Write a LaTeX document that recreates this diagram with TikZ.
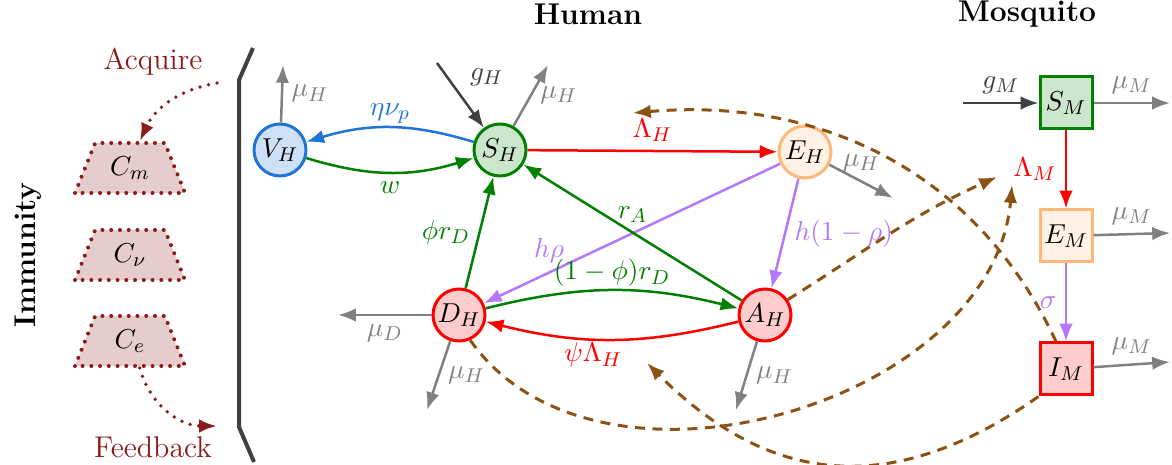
\documentclass[tikz,border=0pt]{standalone}
\usepackage{xcolor}
\usepackage{amsmath,amssymb}
\usepackage{tikz}
\usetikzlibrary{arrows.meta,positioning,shapes.geometric}
\definecolor{HumBlue}{HTML}{1F74D6}
\definecolor{HumGreen}{HTML}{008000}
\definecolor{HumOrange}{HTML}{FFB877}
\definecolor{HumRed}{HTML}{FF0000}
\definecolor{HumPurple}{HTML}{B478FF}
\definecolor{VecBrown}{HTML}{8C5214}
\definecolor{ImmRed}{HTML}{8B1A1A}
\definecolor{DarkGray}{HTML}{404040}
\tikzset{
  cmp/human/.style={draw, circle, line width=1.2pt, minimum size=20.8pt, inner sep=0pt},
  cmp/mosq/.style={draw, rectangle, line width=1.2pt, minimum size=20.8pt, inner sep=0pt},
  cmp/imm/.style={draw=ImmRed, fill=ImmRed!22, trapezium, trapezium left angle=63,
    trapezium right angle=63, trapezium stretches body=true, minimum width=44pt,
    minimum height=20pt, line width=1.6pt, dash pattern=on 0pt off 3.5pt, line cap=round},
  cmp/title/.style={font=\fontsize{12}{14}\selectfont\bfseries},
  cmp/flow/.style={-{Latex[length=2.5mm,width=1.9mm]}, line width=1pt},
  cmp/death/.style={cmp/flow, gray},
  cmp/birth/.style={cmp/flow, DarkGray},
  cmp/infect/.style={-{Latex[length=2.5mm,width=1.9mm]}, VecBrown, line width=1.2pt,
    dash pattern=on 4pt off 3pt},
  cmp/acq/.style={-{Latex[length=2.5mm,width=1.9mm]}, ImmRed, line width=1.5pt,
    dash pattern=on 0pt off 3.5pt, line cap=round},
  cmp/lbl/.style={inner sep=1pt}
}
\begin{document}
\begin{tikzpicture}[x=0.4pt, y=0.4pt, node distance=31.2pt, font=\fontsize{11}{13}\selectfont]
  \useasboundingbox (0,0) rectangle (1172,465);

  % titles
  \node[cmp/title] (human) at (588,451) {Human};
  \node[cmp/title] (mosquito) at (1027,451) {Mosquito};
  \node[cmp/title, rotate=90] (immunity) at (28,210) {Immunity};

  % immunity classes
  \node[cmp/imm] (Cm) at (130,297) {$C_m$};
  \node[cmp/imm] (Cnu) at (130,210) {$C_\nu$};
  \node[cmp/imm] (Ce) at (130,124) {$C_e$};
  \node[text=ImmRed, font=\fontsize{12}{14}\selectfont] (acquire) at (153,403) {Acquire};
  \node[text=ImmRed, font=\fontsize{12}{14}\selectfont] (feedback) at (153,18) {Feedback};
  \coordinate (acqstart) at (217,382);
  \coordinate (fbend) at (217,39);
  \draw[cmp/acq] (acqstart) to[out=190,in=65] (Cm.70);
  \draw[cmp/acq] (Ce.-70) to[out=-75,in=180] (fbend);
  \draw[line width=1.6pt, DarkGray] (253,417) -- (239,385) -- (239,38) -- (254,3);

  % human compartments
  \node[cmp/human, draw=HumGreen, fill=HumGreen!20] (SH) at (500,315) {$S_H$};
  \node[cmp/human, draw=HumBlue, fill=HumBlue!22, left=66pt of SH] (VH) {$V_H$};
  \node[cmp/human, draw=HumOrange, fill=HumOrange!20] (EH) at (805,313) {$E_H$};
  \node[cmp/human, draw=HumRed, fill=HumRed!20] (DH) at (459,150) {$D_H$};
  \node[cmp/human, draw=HumRed, fill=HumRed!20, right=100.4pt of DH] (AH) {$A_H$};

  % mosquito compartments
  \node[cmp/mosq, draw=HumGreen, fill=HumGreen!20] (SM) at (1066,362) {$S_M$};
  \node[cmp/mosq, draw=HumOrange, fill=HumOrange!20, below=of SM] (EM) {$E_M$};
  \node[cmp/mosq, draw=HumRed, fill=HumRed!20, below=of EM] (IM) {$I_M$};

  % free ends
  \coordinate (vhmu) at (283,400);
  \coordinate (shmu) at (548,400);
  \coordinate (ghin) at (437,402);
  \coordinate (ehmu) at (893,267);
  \coordinate (dhmud) at (338,150);
  \coordinate (dhmuh) at (427,55);
  \coordinate (ahmuh) at (736,55);
  \coordinate (gmin) at (963,362);
  \coordinate (smmu) at (1170,362);
  \coordinate (emmu) at (1170,232);
  \coordinate (immu) at (1170,103);
  \coordinate (lamHtip) at (633,352);
  \coordinate (lamMa) at (997,288);
  \coordinate (lamMb) at (1012,280);
  \coordinate (psitip) at (647,102);

  % births and deaths
  \draw[cmp/death] (VH) -- (vhmu) node[midway, right, text=gray] {$\mu_H$};
  \draw[cmp/death] (SH) -- (shmu) node[midway, right, text=gray] {$\mu_H$};
  \draw[cmp/birth] (ghin) -- (SH) node[midway, above right] {$g_H$};
  \draw[cmp/death] (EH) -- (ehmu) node[midway, above, text=gray] {$\mu_H$};
  \draw[cmp/death] (DH) -- (dhmud) node[midway, below, text=gray] {$\mu_D$};
  \draw[cmp/death] (DH) -- (dhmuh) node[midway, right, text=gray] {$\mu_H$};
  \draw[cmp/death] (AH) -- (ahmuh) node[midway, right, text=gray] {$\mu_H$};
  \draw[cmp/birth] (gmin) -- (SM) node[midway, above, text=DarkGray] {$g_M$};
  \draw[cmp/death] (SM) -- (smmu) node[midway, above, text=gray] {$\mu_M$};
  \draw[cmp/death] (EM) -- (emmu) node[midway, above, text=gray] {$\mu_M$};
  \draw[cmp/death] (IM) -- (immu) node[midway, above, text=gray] {$\mu_M$};

  % human transitions
  \draw[cmp/flow, HumBlue] (SH) to[bend right=17] node[midway, above, cmp/lbl] {$\eta\nu_p$} (VH);
  \draw[cmp/flow, HumGreen] (VH) to[bend right=17] node[midway, below] {$w$} (SH);
  \draw[cmp/flow, HumRed] (SH) -- (EH) node[midway, above] {$\Lambda_H$};
  \draw[cmp/flow, HumPurple] (EH) -- (DH) node[pos=0.78, above] {$h\rho$};
  \draw[cmp/flow, HumPurple] (EH) -- (AH) node[midway, right] {$h(1-\rho)$};
  \draw[cmp/flow, HumGreen] (AH) -- (SH) node[pos=0.5, above] {$r_A$};
  \draw[cmp/flow, HumGreen] (DH) -- (SH) node[midway, left] {$\phi r_D$};
  \draw[cmp/flow, HumGreen] (DH) to[bend left=14] node[midway, above, cmp/lbl] {$(1-\phi)r_D$} (AH);
  \draw[cmp/flow, HumRed] (AH) to[bend left=14] node[pos=0.58, below, cmp/lbl] {$\psi\Lambda_H$} (DH);

  % mosquito transitions
  \draw[cmp/flow, HumRed] (SM) -- (EM) node[midway, left] {$\Lambda_M$};
  \draw[cmp/flow, HumPurple] (EM) -- (IM) node[midway, left] {$\sigma$};

  % vector coupling
  \draw[cmp/infect] (IM.110) to[out=115,in=5] (lamHtip);
  \draw[cmp/infect] (AH.34) to[out=32,in=204] (lamMa);
  \draw[cmp/infect] (DH.-66) to[out=-55,in=-95] (lamMb);
  \draw[cmp/infect] (IM.-135) to[out=215,in=-45,looseness=1.15] (psitip);
\end{tikzpicture}
\end{document}
